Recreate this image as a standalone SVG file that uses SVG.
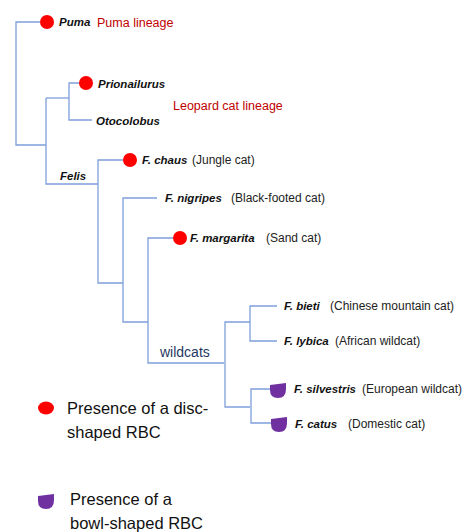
<svg xmlns="http://www.w3.org/2000/svg" width="463" height="532" viewBox="0 0 463 532">
<style>
.ln{stroke:#7f9fda;stroke-width:1.3;fill:none}
.sp{font-family:"Liberation Sans",Arial,sans-serif;font-weight:bold;font-style:italic;font-size:11.5px;fill:#111}
.cm{font-family:"Liberation Sans",Arial,sans-serif;font-size:12px;fill:#222}
.red{font-family:"Liberation Sans",Arial,sans-serif;font-size:12.5px;fill:#c00000}
.lg{font-family:"Liberation Sans",Arial,sans-serif;font-size:16.5px;fill:#111}
.wc{font-family:"Liberation Sans",Arial,sans-serif;font-size:14px;fill:#1f3864}
.dot{fill:#ff0000}
.bowl{fill:#7030a0}
</style>
<defs>
<path id="bowl" d="M-8,-5 L8,-7 L8,-1 Q8,8 0,8 Q-8,8 -8,0 Z"/>
</defs>
<rect width="463" height="532" fill="#fff"/>
<g id="connectors">
<polyline class="ln" points="40,22 16,22 16,145 46,145"/>
<polyline class="ln" points="46,98 46,184 98,184"/>
<polyline class="ln" points="46,98 69,98"/>
<polyline class="ln" points="80,83 69,83 69,120 92,120"/>
<polyline class="ln" points="123,160 98,160 98,283 123,283"/>
<polyline class="ln" points="157,198 123,198 123,322 148,322"/>
<polyline class="ln" points="174,238 148,238 148,363 224,363"/>
<polyline class="ln" points="250,322 225,322 225,407 250,407"/>
<polyline class="ln" points="277,306 250,306 250,341 277,341"/>
<polyline class="ln" points="270,389 251,389 251,423 272,423"/>
</g>
<g id="puma">
<circle class="dot" cx="47" cy="22" r="7"/>
<text class="sp" x="59" y="26">Puma</text>
<text class="red" x="97" y="27">Puma lineage</text>
</g>
<g id="prionailurus">
<circle class="dot" cx="86" cy="83" r="7"/>
<text class="sp" x="98" y="88">Prionailurus</text>
</g>
<g id="otocolobus">
<text class="sp" x="96" y="125">Otocolobus</text>
</g>
<g id="leopard-lineage">
<text class="red" x="173" y="110">Leopard cat lineage</text>
</g>
<g id="felis">
<text class="sp" x="60" y="180">Felis</text>
</g>
<g id="chaus">
<circle class="dot" cx="130" cy="160" r="7"/>
<text class="sp" x="142" y="164">F. chaus</text>
<text class="cm" x="192" y="164">(Jungle cat)</text>
</g>
<g id="nigripes">
<text class="sp" x="165" y="202">F. nigripes</text>
<text class="cm" x="231" y="202">(Black-footed cat)</text>
</g>
<g id="margarita">
<circle class="dot" cx="180" cy="238" r="7"/>
<text class="sp" x="190" y="242">F. margarita</text>
<text class="cm" x="266" y="242">(Sand cat)</text>
</g>
<g id="wildcats">
<text class="wc" x="160" y="357">wildcats</text>
</g>
<g id="bieti">
<text class="sp" x="284" y="310">F. bieti</text>
<text class="cm" x="330" y="310">(Chinese mountain cat)</text>
</g>
<g id="lybica">
<text class="sp" x="284" y="345">F. lybica</text>
<text class="cm" x="335" y="345">(African wildcat)</text>
</g>
<g id="silvestris">
<use href="#bowl" class="bowl" x="278" y="390"/>
<text class="sp" x="294" y="393">F. silvestris</text>
<text class="cm" x="362" y="393">(European wildcat)</text>
</g>
<g id="catus">
<use href="#bowl" class="bowl" x="279" y="424"/>
<text class="sp" x="295" y="428">F. catus</text>
<text class="cm" x="348" y="428">(Domestic cat)</text>
</g>
<g id="legend-disc">
<ellipse class="dot" cx="46" cy="408" rx="8" ry="6.5"/>
<text class="lg" x="67" y="414">Presence of a disc-</text>
<text class="lg" x="67" y="438">shaped RBC</text>
</g>
<g id="legend-bowl">
<use href="#bowl" class="bowl" x="46" y="501"/>
<text class="lg" x="70" y="505">Presence of a</text>
<text class="lg" x="70" y="529">bowl-shaped RBC</text>
</g>
</svg>
